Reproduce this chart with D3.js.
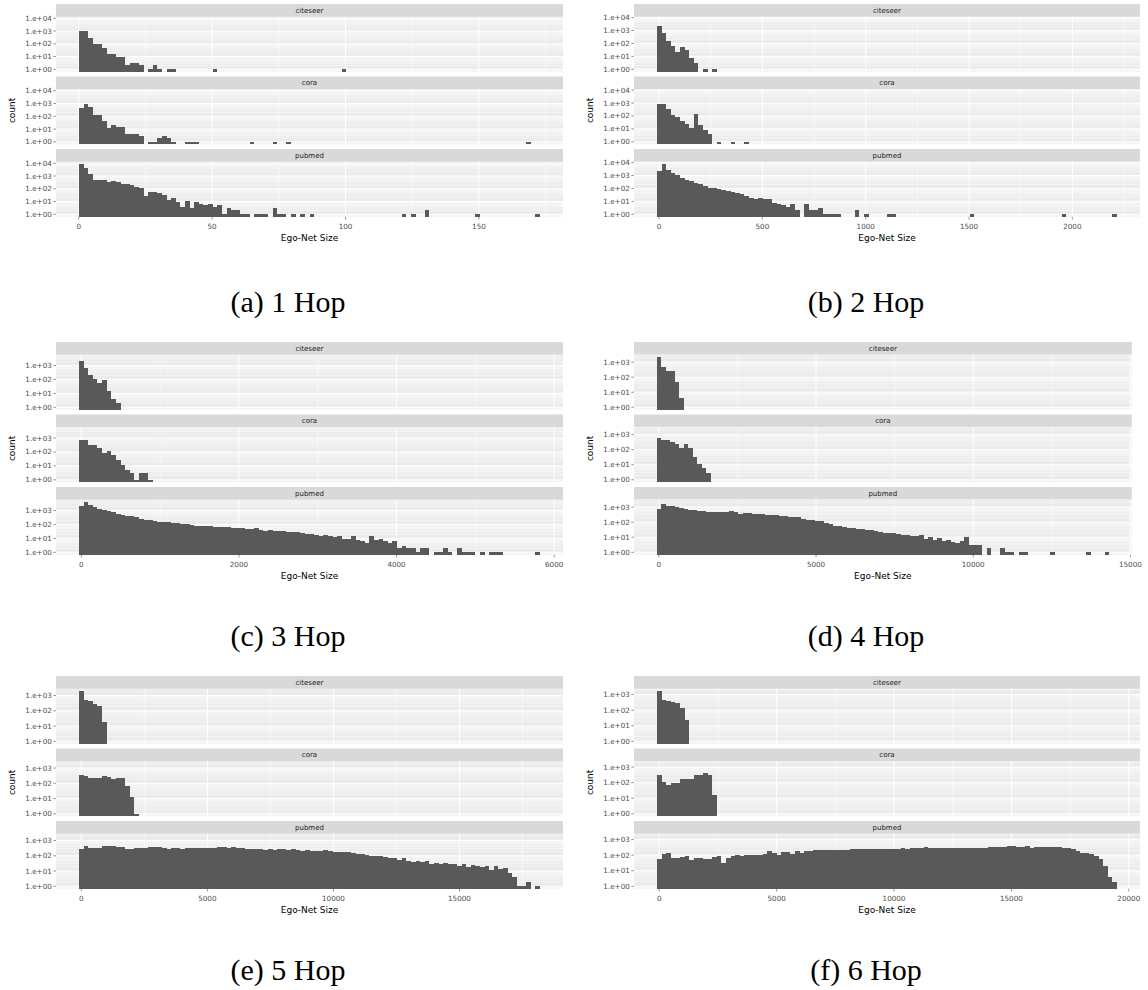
<!DOCTYPE html>
<html><head><meta charset="utf-8">
<script src="https://cdn.jsdelivr.net/npm/d3@7"></script>
<style>body{margin:0;background:#fff}svg{display:block}</style>
</head><body>
<svg id="c" width="1148" height="990"></svg>
<script>
// ---------------- data ----------------
const facets = ["citeseer", "cora", "pubmed"];
const captions = ["(a) 1 Hop", "(b) 2 Hop", "(c) 3 Hop", "(d) 4 Hop", "(e) 5 Hop", "(f) 6 Hop"];
// smallest / largest ego-net size per hop (histogram uses 100 bins between them)
const sizeMin = [1, 1, 1, 1, 1, 1];
const sizeMax = [172, 2205, 5790, 14250, 18100, 19400];
const xTicks = [
  [0, 50, 100, 150],
  [0, 500, 1000, 1500, 2000],
  [0, 2000, 4000, 6000],
  [0, 5000, 10000, 15000],
  [0, 5000, 10000, 15000],
  [0, 5000, 10000, 15000, 20000]
];
const yTicksBig = [1, 10, 100, 1000, 10000];
const yTickLabels = ["1.e+00", "1.e+01", "1.e+02", "1.e+03", "1.e+04"];

// counts per bin (bin index = position in array)
const hop1Citeseer = [1050,1050,305,90,90,49,17,17,10,10, 2,3,3,2,0,1,2,1,0,1, 1,0,0,0,0,0,0,0,0,1, 0,0,0,0,0,0,0,0,0,0, 0,0,0,0,0,0,0,0,0,0, 0,0,0,0,0,0,0,1];
const hop1Cora = [440,890,520,120,120,46,13,21,14,14, 4,4,4,3,0,1,1,2,3,2, 1,0,0,1,1,1,0,0,0,0, 0,0,0,0,0,0,0,1,0,0, 0,0,1,0,0,1,0,0,0,0, 0,0,0,0,0,0,0,0,0,0, 0,0,0,0,0,0,0,0,0,0, 0,0,0,0,0,0,0,0,0,0, 0,0,0,0,0,0,0,0,0,0, 0,0,0,0,0,0,0,1];
const hop1Pubmed = [8300,4500,1350,460,520,470,340,420,350,250, 220,210,130,120,27,55,52,48,35,13, 18,10,4,12,3,10,6,5,6,4, 5,1,3,2,2,1,1,0,1,1, 1,0,3,1,1,0,1,0,1,0, 1,0,0,0,0,0,0,0,0,0, 0,0,0,0,0,0,0,0,0,0, 1,0,1,0,0,2,0,0,0,0, 0,0,0,0,0,0,1,0,0,0, 0,0,0,0,0,0,0,0,0,1];

const hop2Citeseer = [2150,620,150,62,21,52,31,7,3,0,1,0,1];
const hop2Cora = [900,900,325,120,84,44,26,11,134,21,8,4,0,1,0,0,1,0,0,1];
const hop2Pubmed = [2400,7400,2900,1600,1060,660,490,365,274,204, 150,112,100,90,70,60,50,42,35,28, 18,16,17,15,16,8,6,5,4,6, 2,0,6,2,2,3,1,1,1,1, 0,0,0,2,0,1,0,0,0,0, 1,1,0,0,0,0,0,0,0,0, 0,0,0,0,0,0,0,0,1,0, 0,0,0,0,0,0,0,0,0,0, 0,0,0,0,0,0,0,0,1,0, 0,0,0,0,0,0,0,0,0,1];

const hop3Citeseer = [2040,680,200,103,53,87,16,4,2];
const hop3Cora = [680,750,333,320,183,85,118,58,28,12,5,3,1,3,3,1];
const hop3Pubmed = [2150,3900,2400,1700,1300,1100,1000,760,550,460, 420,380,350,240,220,200,180,155,150,140, 130,125,115,100,90,80,75,75,72,70, 65,63,63,60,60,52,48,50,53,42, 36,40,34,35,33,30,28,27,25,22, 20,18,14,18,15,12,15,9,9,14, 8,7,5,16,8,9,7,5,6,2, 3,2,2,1,2,2,0,1,1,2, 1,0,2,1,1,1,0,1,0,1, 1,1,0,0,0,0,0,0,0,1];

const hop4Citeseer = [2090,510,275,250,49,4];
const hop4Cora = [600,460,460,300,250,120,250,120,34,11,6,3];
const hop4Pubmed = [700,1600,1240,1170,1000,860,700,660,630,540, 540,460,460,485,460,460,540,440,375,395, 395,355,355,375,320,305,290,275,250,222, 222,210,172,147,147,125,120,87,71,58, 52,45,41,41,35,33,31,31,26,24, 20,19,18,17,14,15,13,13,15,8, 10,7,9,6,7,5,4,6,10,3, 3,3,0,2,0,0,2,1,1,0, 1,1,0,0,0,0,0,1,0,0, 0,0,0,0,0,1,0,0,0,1];

const hop5Citeseer = [1900,550,410,290,205,19];
const hop5Cora = [350,285,220,220,220,285,260,190,220,220,67,13,1];
const hop5Pubmed = [290,410,305,320,335,460,410,410,390,355, 290,275,335,305,320,390,355,355,320,290, 305,305,275,320,335,335,305,305,320,320, 370,355,320,355,305,305,275,275,260,260, 250,275,237,275,290,250,260,237,215,225, 195,215,215,225,195,185,177,185,177,152, 137,124,107,98,92,92,88,72,75,56, 68,48,38,48,38,44,31,34,28,32, 28,31,23,28,19,24,21,19,23,12, 21,13,17,8,4,1,1,2,0,1];

const hop6Citeseer = [1630,435,390,325,300,140,24];
const hop6Cora = [295,116,75,95,95,180,165,180,325,325,435,325,17];
const hop6Pubmed = [55,127,135,64,68,75,91,48,64,68, 53,58,71,95,32,64,86,110,86,100, 105,105,105,121,180,148,110,170,155,127, 180,148,190,190,220,208,208,208,208,208, 230,230,240,240,240,255,265,255,255,255, 255,255,255,280,255,310,295,310,325,295, 295,310,295,295,295,295,280,295,295,295, 310,310,355,340,325,340,395,375,355,355, 375,310,340,325,325,340,325,325,295,295, 255,180,148,140,127,91,61,20,4,2];

const hopCounts = [
  [hop1Citeseer, hop1Cora, hop1Pubmed],
  [hop2Citeseer, hop2Cora, hop2Pubmed],
  [hop3Citeseer, hop3Cora, hop3Pubmed],
  [hop4Citeseer, hop4Cora, hop4Pubmed],
  [hop5Citeseer, hop5Cora, hop5Pubmed],
  [hop6Citeseer, hop6Cora, hop6Pubmed]
];

// ---------------- layout ----------------
const origins = [[0,0],[578,0],[0,338],[578,338],[0,672],[578,672]];
const captionY = [312, 312, 308, 308, 308, 308];
const panelRight = [563, 562, 563, 553.7, 563, 562];
const panelLeft = 56;
const stripTop = 4, stripH = 12.8, panelH = 55, gap = 4.7;
const FONT = "'DejaVu Sans', sans-serif";

const svg = d3.select("#c");

function drawPlot(h) {
  const [ox, oy] = origins[h];
  const g = svg.append("g").attr("transform", `translate(${ox},${oy})`);
  const nb = 100;
  const w = (sizeMax[h] - sizeMin[h]) / (nb - 1);
  const x0 = sizeMin[h] - w / 2, x1 = x0 + nb * w;
  const ex = (x1 - x0) * 0.05;
  const x = d3.scaleLinear().domain([x0 - ex, x1 + ex]).range([panelLeft, panelRight[h]]);
  const maxC = d3.max(hopCounts[h].flat());
  const M = Math.log10(maxC);
  const yDomain = [Math.pow(10, -0.05 * M), Math.pow(10, 1.05 * M)];
  const pl = panelLeft, pr = panelRight[h];

  const xt = xTicks[h];
  const xMinor = [];
  const step = xt[1] - xt[0];
  for (let v = xt[0] - step / 2; v <= x.domain()[1]; v += step) {
    if (v >= x.domain()[0]) xMinor.push(v);
  }

  let lastBottom = 0;
  facets.forEach((f, k) => {
    const st = stripTop + k * (stripH + panelH + gap);
    const pt = st + stripH, pb = pt + panelH;
    lastBottom = pb;
    g.append("rect").attr("x", pl).attr("y", st).attr("width", pr - pl).attr("height", stripH).attr("fill", "#D9D9D9");
    g.append("text").attr("x", (pl + pr) / 2).attr("y", st + stripH / 2).attr("dy", "0.35em")
      .attr("text-anchor", "middle").attr("font-family", FONT).attr("font-size", 7).attr("fill", "#1A1A1A").text(f);
    g.append("rect").attr("x", pl).attr("y", pt).attr("width", pr - pl).attr("height", panelH).attr("fill", "#EBEBEB");
    const y = d3.scaleLog().domain(yDomain).range([pb, pt]);
    const pg = g.append("g");
    const minorY = [];
    for (let e = -1; e <= 5; e++) for (let m = 2; m <= 9; m++) {
      const v = m * Math.pow(10, e);
      if (v > yDomain[0] && v < yDomain[1]) minorY.push(v);
    }
    pg.selectAll(null).data(minorY).join("line")
      .attr("x1", pl).attr("x2", pr).attr("y1", d => y(d)).attr("y2", d => y(d))
      .attr("stroke", "#fff").attr("stroke-width", 0.5);
    pg.selectAll(null).data(xMinor).join("line")
      .attr("y1", pt).attr("y2", pb).attr("x1", d => x(d)).attr("x2", d => x(d))
      .attr("stroke", "#fff").attr("stroke-width", 0.5);
    const majY = yTicksBig.filter(v => v > yDomain[0] && v < yDomain[1]);
    pg.selectAll(null).data(majY).join("line")
      .attr("x1", pl).attr("x2", pr).attr("y1", d => y(d)).attr("y2", d => y(d))
      .attr("stroke", "#fff").attr("stroke-width", 1);
    pg.selectAll(null).data(xt).join("line")
      .attr("y1", pt).attr("y2", pb).attr("x1", d => x(d)).attr("x2", d => x(d))
      .attr("stroke", "#fff").attr("stroke-width", 1);
    const bins = hopCounts[h][k].map((c, i) => ({c, a: x0 + i * w, b: x0 + (i + 1) * w})).filter(d => d.c > 0);
    g.selectAll(null).data(bins).join("rect")
      .attr("x", d => x(d.a)).attr("width", d => x(d.b) - x(d.a))
      .attr("y", d => y(d.c)).attr("height", d => pb - y(d.c))
      .attr("fill", "#595959").attr("shape-rendering", "crispEdges");
    majY.forEach(v => {
      const yy = y(v);
      g.append("line").attr("x1", pl - 2.7).attr("x2", pl).attr("y1", yy).attr("y2", yy).attr("stroke", "#333").attr("stroke-width", 0.5);
      g.append("text").attr("x", pl - 4.2).attr("y", yy).attr("dy", "0.35em").attr("text-anchor", "end")
        .attr("font-family", FONT).attr("font-size", 7.2).attr("fill", "#4D4D4D")
        .text(yTickLabels[yTicksBig.indexOf(v)]);
    });
  });
  xt.forEach(v => {
    const xx = x(v);
    g.append("line").attr("x1", xx).attr("x2", xx).attr("y1", lastBottom).attr("y2", lastBottom + 2.7).attr("stroke", "#333").attr("stroke-width", 0.5);
    g.append("text").attr("x", xx).attr("y", lastBottom + 9.3).attr("dy", "0.35em").attr("text-anchor", "middle")
      .attr("font-family", FONT).attr("font-size", 7.2).attr("fill", "#4D4D4D").text(v);
  });
  g.append("text").attr("x", (pl + pr) / 2).attr("y", lastBottom + 21).attr("dy", "0.35em").attr("text-anchor", "middle")
    .attr("font-family", FONT).attr("font-size", 9).attr("fill", "#000").text("Ego-Net Size");
  const midY = (stripTop + lastBottom) / 2;
  g.append("text").attr("transform", `translate(12,${midY}) rotate(-90)`).attr("dy", "0.35em").attr("text-anchor", "middle")
    .attr("font-family", FONT).attr("font-size", 9).attr("fill", "#000").text("count");
  g.append("text").attr("x", 288).attr("y", captionY[h]).attr("text-anchor", "middle")
    .attr("font-family", "'Liberation Serif', serif").attr("font-size", 30).attr("fill", "#000").text(captions[h]);
}

for (let h = 0; h < 6; h++) drawPlot(h);
</script>
</body></html>
